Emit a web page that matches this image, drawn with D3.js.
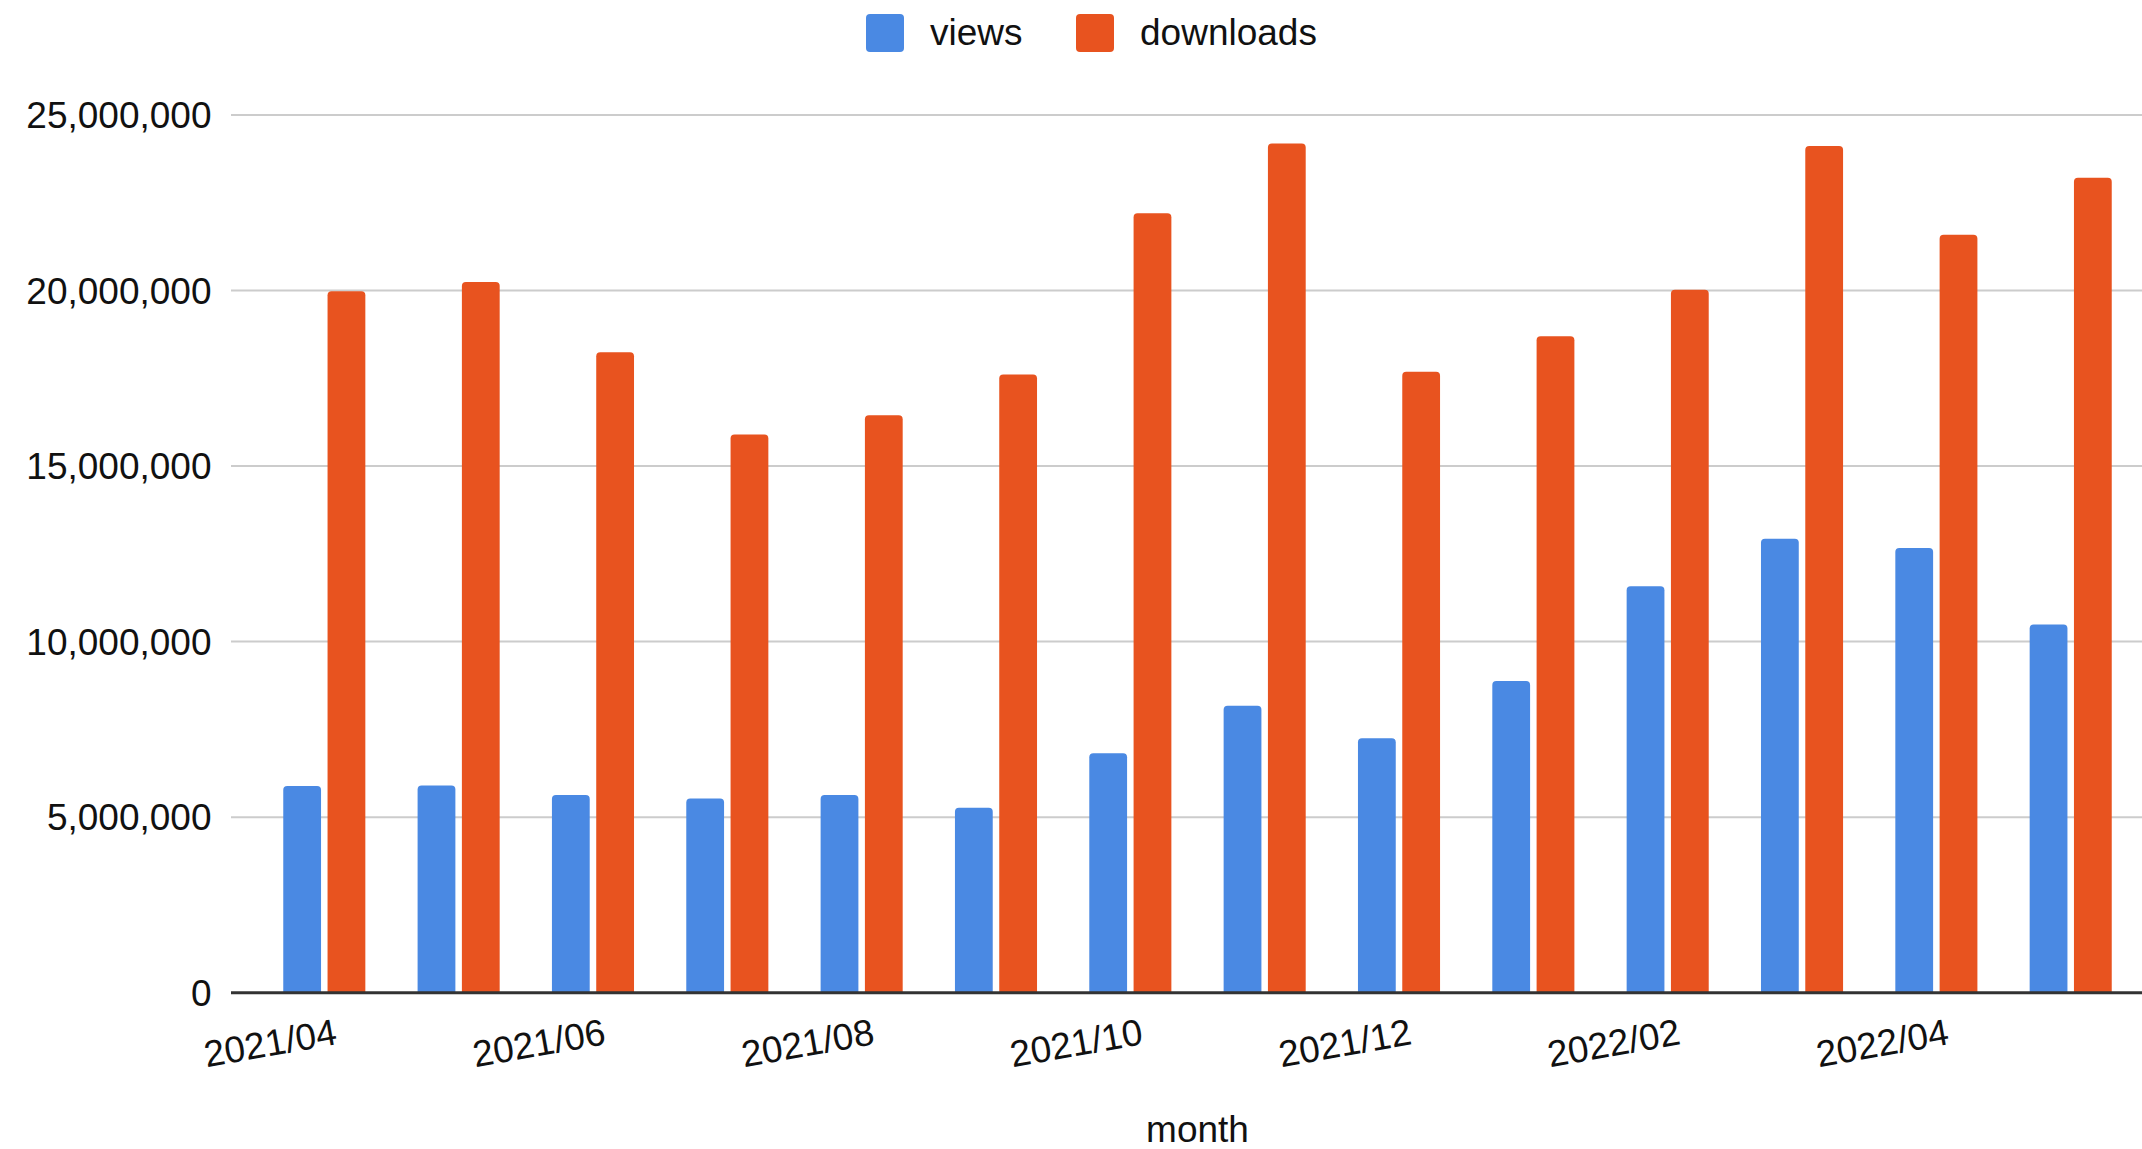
<!DOCTYPE html>
<html>
<head>
<meta charset="utf-8">
<script src="https://cdn.jsdelivr.net/npm/d3@7"></script>
<style>
  body { margin: 0; background: #fff; }
  text { font-family: "Liberation Sans", Arial, sans-serif; fill: #111; }
</style>
</head>
<body>
<div id="chart"></div>
<script>
// monthly data
var months = ['2021/04','2021/05','2021/06','2021/07','2021/08','2021/09','2021/10',
              '2021/11','2021/12','2022/01','2022/02','2022/03','2022/04','2022/05'];
var views = [5890000, 5900000, 5630000, 5530000, 5630000, 5270000, 6820000,
             8170000, 7250000, 8880000, 11580000, 12930000, 12670000, 10490000];
var downloads = [19980000, 20240000, 18240000, 15900000, 16450000, 17610000, 22200000,
                 24190000, 17690000, 18700000, 20020000, 24120000, 21590000, 23210000];
var seriesNames = ['views', 'downloads'];
var seriesColors = ['#4a89e3', '#e8531f'];
var yTicks = [0, 5000000, 10000000, 15000000, 20000000, 25000000];
var xLabelMonths = ['2021/04','2021/06','2021/08','2021/10','2021/12','2022/02','2022/04'];

var width = 2142, height = 1149;

var data = months.map(function(m, i) { return {month: m, views: views[i], downloads: downloads[i]}; });

var svg = d3.select('#chart').append('svg')
    .attr('width', width)
    .attr('height', height);

var x0 = d3.scaleBand()
    .domain(months)
    .range([231, 2164])
    .paddingInner(0.389)
    .paddingOuter(0.389);

var x1 = d3.scaleBand()
    .domain(seriesNames)
    .range([0, x0.bandwidth()])
    .paddingInner(0.147);

var y = d3.scaleLinear()
    .domain([0, 25000000])
    .range([992.7, 115]);

var z = d3.scaleOrdinal().domain(seriesNames).range(seriesColors);

// gridlines
svg.append('g')
    .selectAll('line')
    .data(yTicks.slice(1))
    .enter().append('line')
    .attr('x1', 231)
    .attr('x2', width)
    .attr('y1', d => y(d))
    .attr('y2', d => y(d))
    .attr('stroke', '#cccccc')
    .attr('stroke-width', 2);

// y tick labels
svg.append('g')
    .selectAll('text')
    .data(yTicks)
    .enter().append('text')
    .attr('x', 211.5)
    .attr('y', d => y(d))
    .attr('dy', '0.36em')
    .attr('text-anchor', 'end')
    .attr('font-size', 37)
    .text(d3.format(','));

// bars with rounded top corners
function topRounded(x, yTop, w, yBase, r) {
  return 'M' + x + ',' + yBase +
    'V' + (yTop + r) +
    'Q' + x + ',' + yTop + ' ' + (x + r) + ',' + yTop +
    'H' + (x + w - r) +
    'Q' + (x + w) + ',' + yTop + ' ' + (x + w) + ',' + (yTop + r) +
    'V' + yBase + 'Z';
}

svg.append('g')
    .selectAll('g')
    .data(data)
    .enter().append('g')
    .attr('transform', d => 'translate(' + x0(d.month) + ',0)')
    .selectAll('path')
    .data(d => seriesNames.map(key => ({key: key, value: d[key]})))
    .enter().append('path')
    .attr('d', d => topRounded(x1(d.key), y(d.value), x1.bandwidth(), y(0), 4))
    .attr('fill', d => z(d.key));

// baseline
svg.append('line')
    .attr('x1', 231)
    .attr('x2', width)
    .attr('y1', y(0))
    .attr('y2', y(0))
    .attr('stroke', '#333')
    .attr('stroke-width', 3);

// x labels, slanted
svg.append('g')
    .selectAll('text')
    .data(xLabelMonths)
    .enter().append('text')
    .attr('text-anchor', 'end')
    .attr('font-size', 37)
    .attr('transform', d => {
      var cx = x0(d) + x0.bandwidth() / 2 + 14;
      return 'translate(' + cx + ',1044) rotate(-10)';
    })
    .text(d => d);

// x axis title
svg.append('text')
    .attr('x', (231 + 2164) / 2)
    .attr('y', 1141.5)
    .attr('text-anchor', 'middle')
    .attr('font-size', 37)
    .text('month');

// legend
var legendX = [866, 1076];
var legend = svg.append('g')
    .selectAll('g')
    .data(seriesNames)
    .enter().append('g')
    .attr('transform', (d, i) => 'translate(' + legendX[i] + ',14)');

legend.append('rect')
    .attr('width', 38)
    .attr('height', 38)
    .attr('rx', 4)
    .attr('fill', z);

legend.append('text')
    .attr('x', 64)
    .attr('y', 31)
    .attr('font-size', 37)
    .text(d => d);
</script>
</body>
</html>
